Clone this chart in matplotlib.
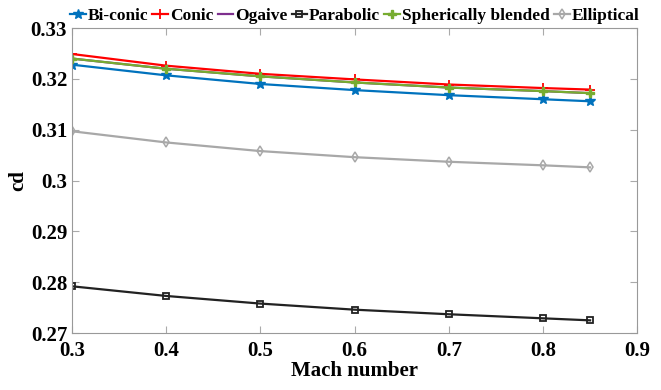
import matplotlib.pyplot as plt

mach = [0.3, 0.4, 0.5, 0.6, 0.7, 0.8, 0.85]
biconic = [0.3228, 0.3207, 0.3190, 0.3178, 0.3168, 0.3160, 0.3156]
conic = [0.3249, 0.3226, 0.3210, 0.3199, 0.3189, 0.3182, 0.3179]
ogaive = [0.3240, 0.3220, 0.3205, 0.3193, 0.3183, 0.3176, 0.3172]
parabolic = [0.2792, 0.2773, 0.2758, 0.2746, 0.2737, 0.2729, 0.2725]
spherical = [0.3240, 0.3220, 0.3205, 0.3193, 0.3183, 0.3176, 0.3172]
elliptical = [0.3097, 0.3075, 0.3058, 0.3046, 0.3037, 0.3030, 0.3026]

plt.rcParams['font.family'] = ['Liberation Serif', 'DejaVu Serif']
plt.rcParams['font.weight'] = 'bold'

fig = plt.figure(figsize=(6.61, 3.9), dpi=100)
ax = fig.add_axes([0.109, 0.146, 0.855, 0.782])

ax.plot(mach, biconic, color='#0072BD', marker='*', ms=7, lw=1.6, label='Bi-conic')
ax.plot(mach, conic, color='#FF0000', marker='+', ms=7, mew=1.3, lw=1.6, label='Conic')
ax.plot(mach, ogaive, color='#7E2F8E', lw=1.6, label='Ogaive')
ax.plot(mach, parabolic, color='#222222', marker='s', ms=4, mfc='none', mew=1.3, lw=1.6, label='Parabolic')
ax.plot(mach, spherical, color='#77AC30', marker='P', ms=6, lw=1.6, label='Spherically blended')
ax.plot(mach, elliptical, color='#A8A8A8', marker='d', ms=5.5, mfc='none', mew=1.1, lw=1.6, label='Elliptical')

ax.set_xlim(0.3, 0.9)
ax.set_ylim(0.27, 0.33)
ax.set_xticks([0.3, 0.4, 0.5, 0.6, 0.7, 0.8, 0.9])
ax.set_xticklabels(['0.3', '0.4', '0.5', '0.6', '0.7', '0.8', '0.9'])
ax.set_yticks([0.27, 0.28, 0.29, 0.3, 0.31, 0.32, 0.33])
ax.set_yticklabels(['0.27', '0.28', '0.29', '0.3', '0.31', '0.32', '0.33'])
ax.tick_params(direction='in', top=True, right=True, labelsize=15, colors='#aaaaaa', labelcolor='black', length=5)
ax.tick_params(axis='x', pad=6)
for s in ax.spines.values():
    s.set_color('#999999')
ax.set_xlabel('Mach number', fontsize=15, fontweight='bold', labelpad=0)
ax.set_ylabel('cd', fontsize=15, fontweight='bold', labelpad=2)

ax.legend(loc='lower center', bbox_to_anchor=(0.5, 0.99), ncol=6, frameon=False,
          fontsize=12.5, handlelength=0.9, handletextpad=0.1, columnspacing=0.25, borderaxespad=0)

fig.savefig('out.png', dpi=100)
